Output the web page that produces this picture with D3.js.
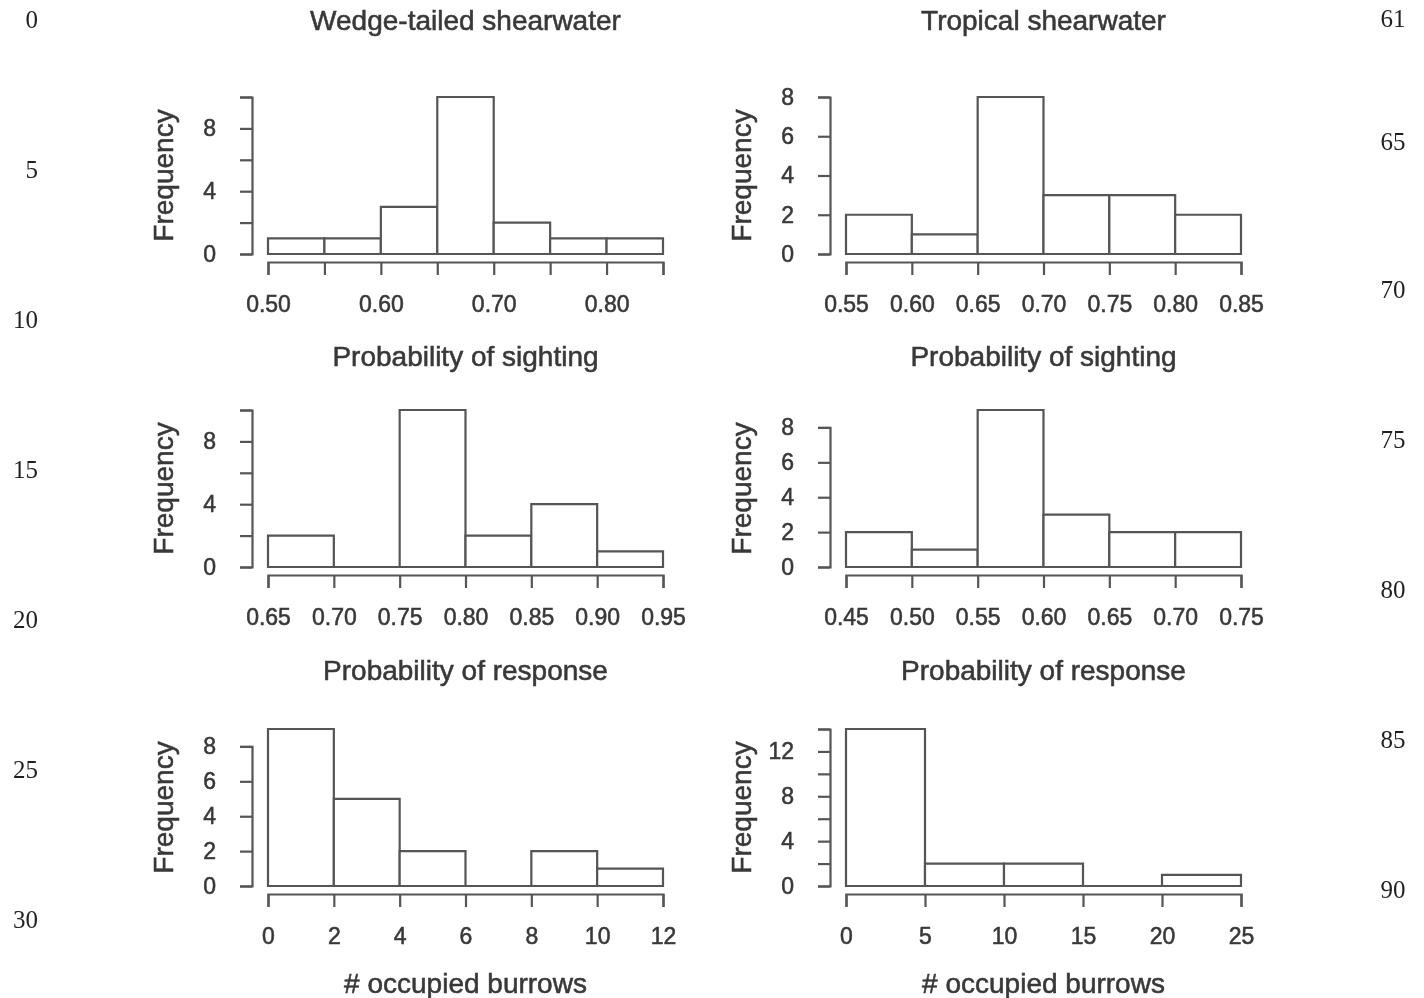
<!DOCTYPE html>
<html>
<head>
<meta charset="utf-8">
<script src="https://cdn.jsdelivr.net/npm/d3@7"></script>
<style>
  body { margin: 0; background: #fff; }
  svg { display: block; }
  .plot text { font-family: "Liberation Sans", Arial, sans-serif; fill: #383838; stroke: #383838; stroke-width: 0.55px; }
  .linenum { font-family: "Liberation Serif", "Times New Roman", serif; fill: #231f20; font-size: 25px; }
</style>
</head>
<body>
<svg class="chart"></svg>
<script>
// Species (columns) and quantities (rows)
var species = ["Wedge-tailed shearwater", "Tropical shearwater"];
var quantities = ["Probability of sighting", "Probability of response", "# occupied burrows"];

// Histogram bin breaks and counts
var wedgeSightBreaks = [0.50, 0.55, 0.60, 0.65, 0.70, 0.75, 0.80, 0.85];
var wedgeSightCounts = [1, 1, 3, 10, 2, 1, 1];
var tropSightBreaks = [0.55, 0.60, 0.65, 0.70, 0.75, 0.80, 0.85];
var tropSightCounts = [2, 1, 8, 3, 3, 2];

var wedgeRespBreaks = [0.65, 0.70, 0.75, 0.80, 0.85, 0.90, 0.95];
var wedgeRespCounts = [2, 0, 10, 2, 4, 1];
var tropRespBreaks = [0.45, 0.50, 0.55, 0.60, 0.65, 0.70, 0.75];
var tropRespCounts = [2, 1, 9, 3, 2, 2];

var wedgeBurrowBreaks = [0, 2, 4, 6, 8, 10, 12];
var wedgeBurrowCounts = [9, 5, 2, 0, 2, 1];
var tropBurrowBreaks = [0, 5, 10, 15, 20, 25];
var tropBurrowCounts = [14, 2, 2, 0, 1];

// Tick values and which of them carry a label (R drops overlapping ones)
var yTicksTen = [0, 2, 4, 6, 8, 10];
var yTicksEight = [0, 2, 4, 6, 8];
var yTicksFourteen = [0, 2, 4, 6, 8, 10, 12, 14];
var yLabelsTen = [0, 4, 8];
var yLabelsFourteen = [0, 4, 8, 12];
var xLabelsWedgeSight = [0.50, 0.60, 0.70, 0.80];

// Side line numbers of the manuscript page
var leftLineNumbers = ["0", "5", "10", "15", "20", "25", "30"];
var rightLineNumbers = ["61", "65", "70", "75", "80", "85", "90"];

window.onload = function () {

    var width = 1424, height = 998;

    var svg = d3.select("svg.chart")
        .attr("width", width)
        .attr("height", height);

    // soft blur, the original is a scanned raster
    svg.append("defs").append("filter")
        .attr("id", "soft")
        .append("feGaussianBlur")
        .attr("stdDeviation", 0.55);

    var panels = [
        { row: 0, col: 0, breaks: wedgeSightBreaks, counts: wedgeSightCounts, yTicks: yTicksTen, yLabels: yLabelsTen, xLabels: xLabelsWedgeSight, fmt: ".2f" },
        { row: 0, col: 1, breaks: tropSightBreaks, counts: tropSightCounts, yTicks: yTicksEight, yLabels: yTicksEight, xLabels: tropSightBreaks, fmt: ".2f" },
        { row: 1, col: 0, breaks: wedgeRespBreaks, counts: wedgeRespCounts, yTicks: yTicksTen, yLabels: yLabelsTen, xLabels: wedgeRespBreaks, fmt: ".2f" },
        { row: 1, col: 1, breaks: tropRespBreaks, counts: tropRespCounts, yTicks: yTicksEight, yLabels: yTicksEight, xLabels: tropRespBreaks, fmt: ".2f" },
        { row: 2, col: 0, breaks: wedgeBurrowBreaks, counts: wedgeBurrowCounts, yTicks: yTicksEight, yLabels: yTicksEight, xLabels: wedgeBurrowBreaks, fmt: "d" },
        { row: 2, col: 1, breaks: tropBurrowBreaks, counts: tropBurrowCounts, yTicks: yTicksFourteen, yLabels: yLabelsFourteen, xLabels: tropBurrowBreaks, fmt: "d" }
    ];

    var rowBase = [254, 567, 886];   // y of zero count in each row
    var rowTitleY = [356, 670, 983];
    var colLeft = [268, 846];        // left edge of first bin
    var plotW = 395, plotH = 157;
    var lineCol = "#555";

    var plot = svg.append("g").attr("class", "plot").attr("filter", "url(#soft)");

    // species titles on top
    species.forEach(function (name, i) {
        plot.append("text")
            .attr("x", colLeft[i] + plotW / 2)
            .attr("y", 20)
            .attr("text-anchor", "middle")
            .attr("dominant-baseline", "central")
            .style("font-size", "28px")
            .text(name);
    });

    panels.forEach(function (p) {
        var base = rowBase[p.row];
        var left = colLeft[p.col];
        var g = plot.append("g");

        var x = d3.scaleLinear()
            .domain([p.breaks[0], p.breaks[p.breaks.length - 1]])
            .range([left, left + plotW]);
        var y = d3.scaleLinear()
            .domain([0, d3.max(p.counts)])
            .range([base, base - plotH]);

        // bars drawn as closed paths so empty bins still show a line at zero
        g.selectAll("path.bar")
            .data(p.counts)
            .enter()
            .append("path")
            .attr("class", "bar")
            .attr("d", function (d, i) {
                var x0 = x(p.breaks[i]), x1 = x(p.breaks[i + 1]);
                return "M" + x0 + "," + y(0) + "V" + y(d) + "H" + x1 + "V" + y(0) + "Z";
            })
            .attr("fill", "#fff")
            .attr("stroke", lineCol)
            .attr("stroke-width", 2.2);

        // x axis, sits a little below the bars like R's default
        var xAxis = d3.axisBottom(x)
            .tickValues(p.breaks)
            .tickSizeOuter(0)
            .tickSize(13)
            .tickFormat(function (v) {
                var shown = p.xLabels.some(function (l) { return Math.abs(l - v) < 1e-9; });
                return shown ? d3.format(p.fmt)(v) : "";
            });
        var xg = g.append("g")
            .attr("transform", "translate(0," + (base + 8) + ")")
            .call(xAxis);
        xg.selectAll("path, line").attr("stroke", lineCol).attr("stroke-width", 2.2);
        xg.selectAll("text")
            .attr("y", 42)
            .attr("dy", "0.35em")
            .attr("fill", "#383838")
            .style("font-size", "23px")
            .style("font-family", "'Liberation Sans', Arial, sans-serif");

        // y axis spans first to last tick only
        var lastTick = p.yTicks[p.yTicks.length - 1];
        var yAxisScale = d3.scaleLinear().domain([0, lastTick]).range([y(0), y(lastTick)]);
        var yAxis = d3.axisLeft(yAxisScale)
            .tickValues(p.yTicks)
            .tickSizeOuter(0)
            .tickSize(12)
            .tickPadding(24)
            .tickFormat(function (v) { return p.yLabels.indexOf(v) >= 0 ? d3.format("d")(v) : ""; });
        var yg = g.append("g")
            .attr("transform", "translate(" + (left - 16) + ",0)")
            .call(yAxis);
        yg.selectAll("path, line").attr("stroke", lineCol).attr("stroke-width", 2.2);
        yg.selectAll("text")
            .attr("fill", "#383838")
            .style("font-size", "23px")
            .style("font-family", "'Liberation Sans', Arial, sans-serif");

        // y label
        g.append("text")
            .attr("transform", "translate(" + (left - 105) + "," + (base - plotH / 2) + ") rotate(-90)")
            .attr("text-anchor", "middle")
            .attr("dominant-baseline", "central")
            .style("font-size", "28px")
            .text("Frequency");

        // x label
        g.append("text")
            .attr("x", left + plotW / 2)
            .attr("y", rowTitleY[p.row])
            .attr("text-anchor", "middle")
            .attr("dominant-baseline", "central")
            .style("font-size", "28px")
            .text(quantities[p.row]);
    });

    // manuscript line numbers
    var leftY = [19, 169, 319, 469, 619, 769, 919];
    var rightY = [18, 141, 289, 439, 589, 739, 889];

    svg.selectAll("text.left-num")
        .data(leftLineNumbers)
        .enter()
        .append("text")
        .attr("class", "linenum left-num")
        .attr("x", 38)
        .attr("y", function (d, i) { return leftY[i]; })
        .attr("text-anchor", "end")
        .attr("dominant-baseline", "central")
        .text(function (d) { return d; });

    svg.selectAll("text.right-num")
        .data(rightLineNumbers)
        .enter()
        .append("text")
        .attr("class", "linenum right-num")
        .attr("x", 1393)
        .attr("y", function (d, i) { return rightY[i]; })
        .attr("text-anchor", "middle")
        .attr("dominant-baseline", "central")
        .text(function (d) { return d; });
};
</script>
</body>
</html>
